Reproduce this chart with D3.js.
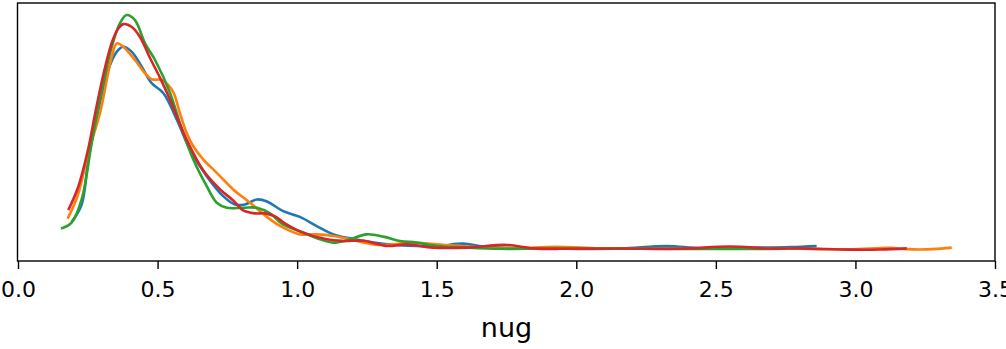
<!DOCTYPE html>
<html>
<head>
<meta charset="utf-8">
<script src="https://cdn.jsdelivr.net/npm/d3@7"></script>
<style>
  body { margin: 0; background: #fff; }
  svg { display: block; font-family: "DejaVu Sans", sans-serif; }
</style>
</head>
<body>
<svg width="1006" height="349"></svg>
<script>
// KDE of "nug" per chain (x = nug, y = density)
var chain0X = [0.192, 0.228, 0.252, 0.288, 0.323, 0.354, 0.377, 0.407, 0.443, 0.479, 0.521, 0.569, 0.616, 0.676, 0.735, 0.777, 0.813, 0.856, 0.892, 0.950, 1.010, 1.070, 1.130, 1.189, 1.308, 1.428, 1.512, 1.595, 1.666, 1.787, 1.967, 2.157, 2.324, 2.443, 2.622, 2.766, 2.861];
var chain0Y = [0.232, 0.382, 0.765, 1.189, 1.529, 1.685, 1.727, 1.685, 1.557, 1.416, 1.331, 1.105, 0.850, 0.623, 0.453, 0.382, 0.382, 0.425, 0.408, 0.325, 0.276, 0.198, 0.127, 0.093, 0.047, 0.028, 0.030, 0.048, 0.023, 0.008, 0.004, 0.006, 0.028, 0.008, 0.013, 0.019, 0.028];

var chain1X = [0.178, 0.215, 0.252, 0.294, 0.336, 0.354, 0.377, 0.419, 0.455, 0.479, 0.515, 0.538, 0.558, 0.580, 0.604, 0.628, 0.664, 0.712, 0.771, 0.831, 0.903, 0.950, 1.010, 1.070, 1.130, 1.189, 1.273, 1.333, 1.404, 1.548, 1.691, 1.834, 1.930, 2.085, 2.264, 2.443, 2.622, 2.801, 2.981, 3.124, 3.184, 3.278, 3.345];
var chain1Y = [0.261, 0.467, 0.824, 1.164, 1.642, 1.756, 1.727, 1.614, 1.501, 1.450, 1.444, 1.402, 1.331, 1.161, 0.993, 0.878, 0.765, 0.652, 0.510, 0.397, 0.255, 0.184, 0.127, 0.127, 0.113, 0.085, 0.042, 0.038, 0.055, 0.034, 0.013, 0.013, 0.021, 0.008, 0.004, 0.008, 0.010, 0.004, 0.000, 0.013, 0.001, 0.001, 0.014];

var chain2X = [0.154, 0.192, 0.228, 0.264, 0.300, 0.336, 0.365, 0.389, 0.419, 0.455, 0.491, 0.545, 0.580, 0.628, 0.676, 0.712, 0.748, 0.807, 0.855, 0.903, 0.949, 1.010, 1.082, 1.128, 1.178, 1.249, 1.309, 1.368, 1.428, 1.500, 1.607, 1.727, 1.900, 2.100, 2.300, 2.500, 2.650, 2.750];
var chain2Y = [0.176, 0.227, 0.425, 0.907, 1.359, 1.727, 1.926, 1.997, 1.954, 1.756, 1.614, 1.331, 1.076, 0.765, 0.538, 0.397, 0.354, 0.354, 0.354, 0.306, 0.212, 0.153, 0.085, 0.057, 0.076, 0.127, 0.108, 0.071, 0.057, 0.028, 0.014, 0.004, 0.006, 0.005, 0.004, 0.002, 0.003, 0.004];

var chain3X = [0.180, 0.215, 0.251, 0.279, 0.308, 0.337, 0.358, 0.377, 0.408, 0.437, 0.473, 0.509, 0.545, 0.604, 0.664, 0.724, 0.771, 0.807, 0.849, 0.885, 0.921, 0.956, 1.010, 1.106, 1.165, 1.237, 1.321, 1.393, 1.487, 1.607, 1.751, 1.846, 1.978, 2.157, 2.372, 2.551, 2.694, 2.801, 2.981, 3.088, 3.184];
var chain3Y = [0.334, 0.527, 0.850, 1.189, 1.512, 1.767, 1.878, 1.920, 1.895, 1.810, 1.631, 1.461, 1.274, 0.935, 0.671, 0.510, 0.416, 0.331, 0.306, 0.306, 0.280, 0.221, 0.153, 0.085, 0.071, 0.072, 0.028, 0.042, 0.014, 0.014, 0.037, 0.008, 0.004, 0.006, 0.004, 0.023, 0.006, 0.008, -0.003, -0.002, 0.008];

var xTicks = [0, 0.5, 1, 1.5, 2, 2.5, 3, 3.5];
var colors = ["#1f77b4", "#ff7f0e", "#2ca02c", "#d62728"];
var xLabel = "nug";

var series = [
  d3.zip(chain0X, chain0Y),
  d3.zip(chain1X, chain1Y),
  d3.zip(chain2X, chain2Y),
  d3.zip(chain3X, chain3Y)
];

var svg = d3.select("svg");
var margin = {top: 3, right: 11, bottom: 88, left: 18};
var width = +svg.attr("width") - margin.left - margin.right;
var height = +svg.attr("height") - margin.top - margin.bottom;

var x = d3.scaleLinear().domain([0, 3.5]).range([margin.left, margin.left + width]);
var y = d3.scaleLinear().domain([-0.1, 2.1]).range([margin.top + height, margin.top]);

var line = d3.line()
  .x(function(d) { return x(d[0]); })
  .y(function(d) { return y(d[1]); })
  .curve(d3.curveCatmullRom.alpha(0.5));

svg.selectAll(".kde")
  .data(series)
  .enter().append("path")
  .attr("class", "kde")
  .attr("d", line)
  .attr("fill", "none")
  .attr("stroke", function(d, i) { return colors[i]; })
  .attr("stroke-width", 2.6)
  .attr("stroke-linejoin", "round")
  .attr("stroke-linecap", "butt");

// frame
svg.append("rect")
  .attr("x", margin.left - 0.5)
  .attr("y", margin.top)
  .attr("width", width + 0.5)
  .attr("height", height)
  .attr("fill", "none")
  .attr("stroke", "#000")
  .attr("stroke-width", 1.4);

var xAxis = svg.append("g")
  .attr("transform", "translate(0," + (margin.top + height) + ")")
  .call(d3.axisBottom(x).tickValues(xTicks).tickFormat(d3.format(".1f")).tickSize(8).tickPadding(12));
xAxis.select(".domain").remove();
xAxis.selectAll("line").attr("stroke", "#000").attr("stroke-width", 1.4);
xAxis.selectAll("text")
  .attr("fill", "#000")
  .style("font-family", "DejaVu Sans")
  .style("font-size", "22px");

svg.append("text")
  .attr("x", margin.left + width / 2)
  .attr("y", 337)
  .attr("text-anchor", "middle")
  .style("font-size", "27px")
  .text(xLabel);
</script>
</body>
</html>
